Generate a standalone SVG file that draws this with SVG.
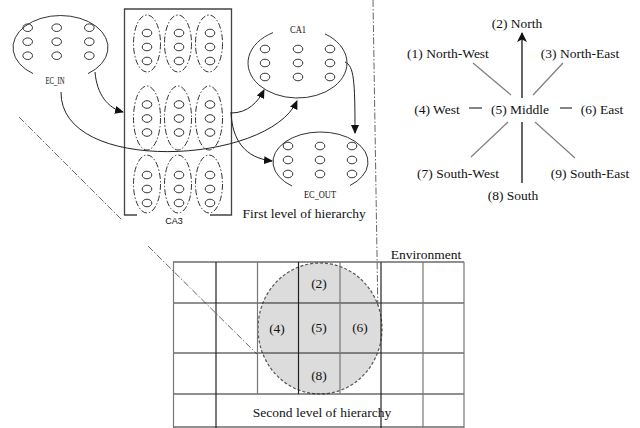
<svg xmlns="http://www.w3.org/2000/svg" width="640" height="428" viewBox="0 0 640 428">
<style>
.bg{fill:#fff}
.cell{fill:none;stroke:#333;stroke-width:1}
.grp{fill:none;stroke:#333;stroke-width:1}
.dgrp{fill:none;stroke:#333;stroke-width:1;stroke-dasharray:6 2 1.5 2}
.box{fill:none;stroke:#444;stroke-width:1.3}
.conn{fill:none;stroke:#222;stroke-width:1}
.divider{fill:none;stroke:#666;stroke-width:1;stroke-dasharray:7 2 1.5 2}
.lbl{font-family:"Liberation Serif","Times New Roman",serif;font-size:13.5px;fill:#111}
.mid{text-anchor:middle}
.small{font-family:"Liberation Serif","Times New Roman",serif;font-size:10px;fill:#111;text-anchor:middle}
.sans{font-family:"Liberation Sans",Arial,sans-serif;font-size:9px;fill:#111;text-anchor:middle}
.diag{stroke:#808080;stroke-width:1.2}
.axis{stroke:#333;stroke-width:1.5}
.gdark{stroke:#222;stroke-width:1.2}
.glight{stroke:#777;stroke-width:1.2}
</style>
<defs>
<marker id="ah" markerUnits="userSpaceOnUse" markerWidth="9" markerHeight="8" refX="8" refY="4" orient="auto">
<path d="M0,0 L9,4 L0,8 Z" fill="#111"/>
</marker>
<marker id="ahN" markerUnits="userSpaceOnUse" markerWidth="10" markerHeight="10" refX="9" refY="5" orient="auto">
<path d="M0,0 L10,5 L0,10 L2.5,5 Z" fill="#111"/>
</marker>
<g id="c3">
<ellipse cx="0" cy="-14" rx="4.8" ry="3.8" class="cell"/>
<ellipse cx="0" cy="0" rx="4.8" ry="3.8" class="cell"/>
<ellipse cx="0" cy="14" rx="4.8" ry="3.8" class="cell"/>
</g>
</defs>
<rect class="bg" x="0" y="0" width="640" height="428"/>

<g id="dividers">
<path class="divider" d="M373,0 L378,318"/>
<path class="divider" d="M19,117 L122,220"/>
<path class="divider" d="M148,246 L258,355"/>
</g>

<g id="EC_IN">
<path class="grp" d="M33,73.6 A47.5 32 0 1 1 88,73.6"/>
<use href="#c3" x="27.7" y="41.7"/>
<use href="#c3" x="56.7" y="41.7"/>
<use href="#c3" x="89.3" y="41.7"/>
<text class="small" x="55" y="84" textLength="19" lengthAdjust="spacingAndGlyphs">EC_IN</text>
</g>

<g id="CA3">
<path class="box" d="M137,215 H124.5 V9 H231.5 V215 H210"/>
<ellipse class="dgrp" cx="147" cy="43.5" rx="13.5" ry="28.5"/>
<ellipse class="dgrp" cx="178" cy="43.5" rx="13.5" ry="28.5"/>
<ellipse class="dgrp" cx="209" cy="43.5" rx="13.5" ry="28.5"/>
<ellipse class="dgrp" cx="147" cy="118" rx="13.5" ry="32"/>
<ellipse class="dgrp" cx="178" cy="118" rx="13.5" ry="32"/>
<ellipse class="dgrp" cx="209" cy="118" rx="13.5" ry="32"/>
<ellipse class="dgrp" cx="147" cy="184" rx="13.5" ry="29"/>
<ellipse class="dgrp" cx="178" cy="184" rx="13.5" ry="29"/>
<ellipse class="dgrp" cx="209" cy="184" rx="13.5" ry="29"/>
<use href="#c3" x="147" y="47"/>
<use href="#c3" x="179" y="47"/>
<use href="#c3" x="210" y="47"/>
<use href="#c3" x="147" y="118.5"/>
<use href="#c3" x="179" y="118.5"/>
<use href="#c3" x="210" y="118.5"/>
<use href="#c3" x="147" y="189"/>
<use href="#c3" x="179" y="189"/>
<use href="#c3" x="210" y="189"/>
<text class="sans" x="174" y="224">CA3</text>
</g>

<g id="CA1">
<path class="grp" d="M273,32.6 A49.5 35 0 1 0 325,33.9"/>
<use href="#c3" x="265" y="63"/>
<use href="#c3" x="298" y="63"/>
<use href="#c3" x="330" y="63"/>
<text class="small" x="298" y="33" textLength="16" lengthAdjust="spacingAndGlyphs">CA1</text>
</g>

<g id="EC_OUT">
<path class="grp" d="M292,186 A47.5 30 0 1 1 350,185.5"/>
<use href="#c3" x="288" y="160"/>
<use href="#c3" x="320" y="160"/>
<use href="#c3" x="352" y="160"/>
<text class="small" x="320" y="198" textLength="32" lengthAdjust="spacingAndGlyphs">EC_OUT</text>
</g>

<g id="connectors">
<path class="conn" d="M95,72 C97,95 108,108 123,112" marker-end="url(#ah)"/>
<path class="conn" d="M61,92 C60,175 268,165 297,101" marker-end="url(#ah)"/>
<path class="conn" d="M231,113 C248,113 258,102 264,90" marker-end="url(#ah)"/>
<path class="conn" d="M231,112 C232,140 245,158 272,161" marker-end="url(#ah)"/>
<path class="conn" d="M345,62 C354,66 355,80 355,133" marker-end="url(#ah)"/>
</g>

<text id="first-level" class="lbl" x="242.5" y="218">First level of hierarchy</text>

<g id="compass">
<line class="axis" x1="522" y1="98" x2="522" y2="33" marker-end="url(#ahN)"/>
<line class="axis" x1="522" y1="122" x2="522" y2="183"/>
<line class="diag" x1="473" y1="63" x2="511" y2="95"/>
<line class="diag" x1="563" y1="63" x2="533" y2="95"/>
<line class="diag" x1="508" y1="122" x2="471" y2="157"/>
<line class="diag" x1="535" y1="122" x2="575" y2="158"/>
<line class="axis" x1="469" y1="108" x2="482" y2="108" style="stroke-width:1.2"/>
<line class="axis" x1="560" y1="108" x2="572" y2="108" style="stroke-width:1.2"/>
<text class="lbl mid" x="517" y="27.5">(2) North</text>
<text class="lbl mid" x="448" y="57.5">(1) North-West</text>
<text class="lbl mid" x="580" y="57.5">(3) North-East</text>
<text class="lbl mid" x="437" y="113.5">(4) West</text>
<text class="lbl mid" x="520" y="113.5">(5) Middle</text>
<text class="lbl mid" x="602" y="113.5">(6) East</text>
<text class="lbl mid" x="458" y="177.5">(7) South-West</text>
<text class="lbl mid" x="590" y="177.5">(9) South-East</text>
<text class="lbl mid" x="513" y="199.5">(8) South</text>
</g>

<g id="environment">
<ellipse cx="320" cy="328.5" rx="62" ry="65.5" fill="#dcdcdc" stroke="#555" stroke-width="1.2" stroke-dasharray="3 2"/>
<line class="gdark" x1="173" y1="262" x2="464" y2="262"/>
<line class="gdark" x1="173" y1="303" x2="464" y2="303"/>
<line class="gdark" x1="173" y1="353" x2="464" y2="353"/>
<line class="gdark" x1="173" y1="394" x2="464" y2="394"/>
<line class="gdark" x1="173" y1="427" x2="464" y2="427"/>
<line class="glight" x1="173.5" y1="262" x2="173.5" y2="428"/>
<line class="gdark" x1="216" y1="262" x2="216" y2="428"/>
<line class="glight" x1="257.5" y1="262" x2="257.5" y2="394"/>
<line class="gdark" x1="298.5" y1="262" x2="298.5" y2="394"/>
<line class="glight" x1="340" y1="262" x2="340" y2="394"/>
<line class="gdark" x1="381" y1="262" x2="381" y2="428"/>
<line class="glight" x1="423" y1="262" x2="423" y2="428"/>
<line class="glight" x1="464" y1="262" x2="464" y2="428"/>
<text class="lbl mid" x="319" y="287.5">(2)</text>
<text class="lbl mid" x="277" y="333">(4)</text>
<text class="lbl mid" x="319" y="331.5">(5)</text>
<text class="lbl mid" x="360" y="331.5">(6)</text>
<text class="lbl mid" x="319" y="379.5">(8)</text>
<text class="lbl mid" x="426" y="259">Environment</text>
<text class="lbl mid" x="322" y="417">Second level of hierarchy</text>
</g>
</svg>
